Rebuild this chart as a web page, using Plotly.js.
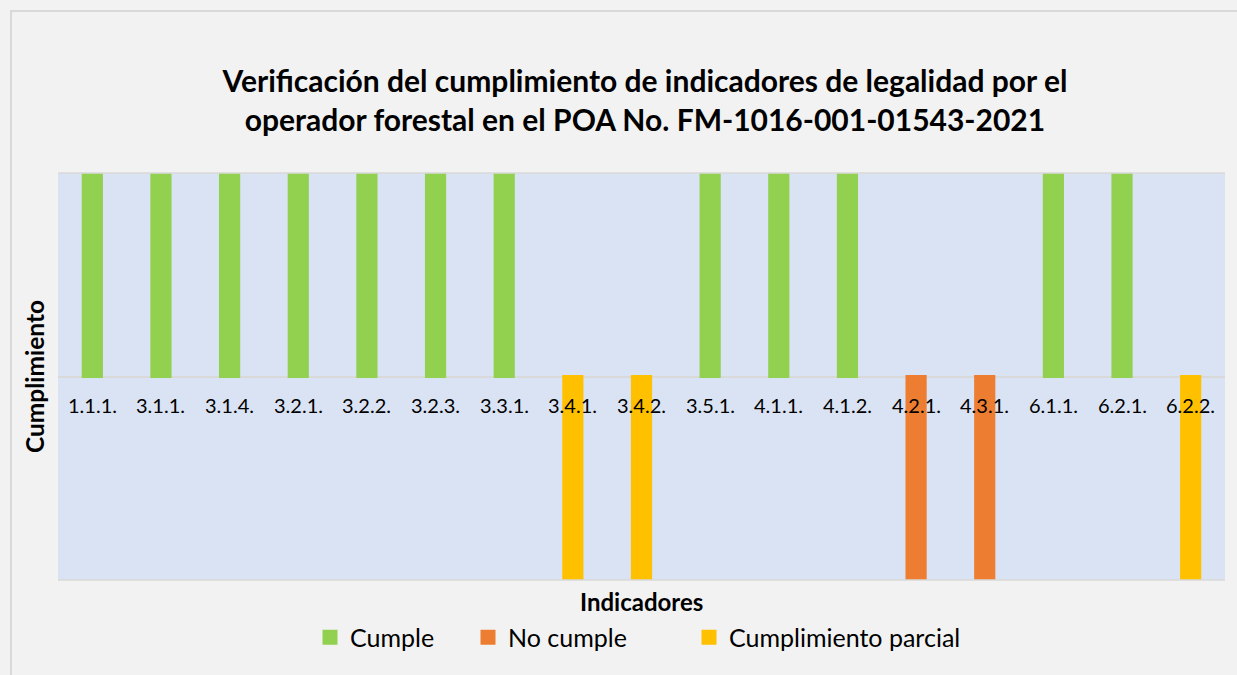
<!DOCTYPE html>
<html>
<head>
<meta charset="utf-8">
<script src="https://cdn.plot.ly/plotly-3.0.1.min.js"></script>
<style>
html,body{margin:0;padding:0;background:#ffffff;}
#chart{width:1237px;height:675px;}
</style>
</head>
<body>
<div id="chart"></div>
<script>
const categories = ["1.1.1.","3.1.1.","3.1.4.","3.2.1.","3.2.2.","3.2.3.","3.3.1.","3.4.1.","3.4.2.","3.5.1.","4.1.1.","4.1.2.","4.2.1.","4.3.1.","6.1.1.","6.2.1.","6.2.2."];
const cumple    = [1,1,1,1,1,1,1,null,null,1,1,1,null,null,1,1,null];
const noCumple  = [null,null,null,null,null,null,null,null,null,null,null,null,-1,-1,null,null,null];
const parcial   = [null,null,null,null,null,null,null,-1,-1,null,null,null,null,null,null,null,-1];
const seriesNames = ["Cumple","No cumple","Cumplimiento parcial"];
const seriesColors = ["#92D050","#ED7D31","#FFC000"];

const FONT = "Lato, 'Open Sans', sans-serif";
const PLOT_W = 1237 - 58 - 12;
const PLOT_H = 675 - 173 - 95;
const legendIds = ["legend","legend2","legend3"];
const legendLeftPx = [310, 468, 689];

const traces = [cumple, noCumple, parcial].map((vals, i) => ({
  type: "bar",
  name: seriesNames[i],
  x: categories,
  y: vals,
  legend: legendIds[i],
  marker: {color: seriesColors[i], line: {width: 3, color: seriesColors[i]}},
  hoverinfo: "x+y+name"
}));

const labelAnnotations = categories.map(c => ({
  x: c, y: 0, xref: "x", yref: "y",
  text: c, showarrow: false,
  yanchor: "top", yshift: -14,
  font: {family: FONT, size: 20, color: "#000000"}
}));

const layout = {
  width: 1237, height: 675,
  paper_bgcolor: "#F2F2F2",
  plot_bgcolor: "#DAE3F3",
  margin: {l: 58, r: 12, t: 173, b: 95, pad: 0, autoexpand: false},
  barmode: "relative",
  bargap: 0.735,
  showlegend: true,
  title: {
    text: "<b>Verificación del cumplimiento de indicadores de legalidad por el<br>operador forestal en el POA No. FM-1016-001-01543-2021</b>",
    font: {family: FONT, size: 30, color: "#000000"},
    x: 0.5214, xanchor: "center",
    y: 0.864, yanchor: "middle"
  },
  xaxis: {
    type: "category",
    showticklabels: false,
    ticks: "",
    showgrid: false,
    showline: false,
    zeroline: false,
    fixedrange: true
  },
  yaxis: {
    range: [-1, 1],
    showticklabels: false,
    ticks: "",
    showgrid: false,
    showline: false,
    zeroline: true,
    zerolinecolor: "#D9D9D9",
    zerolinewidth: 1.5,
    title: {text: "<b>Cumplimiento</b>", font: {family: FONT, size: 24.5, color: "#000000"}, standoff: 5},
    fixedrange: true
  },
  annotations: labelAnnotations.concat([{
    x: 0.5, y: -0.012, xref: "paper", yref: "paper",
    text: "<b>Indicadores</b>", showarrow: false,
    xanchor: "center", yanchor: "top",
    font: {family: FONT, size: 24, color: "#000000"}
  }]),
  shapes: [
    {type: "line", xref: "paper", yref: "paper", x0: 0, x1: 1, y0: 1, y1: 1, line: {color: "#D9D9D9", width: 1.5}},
    {type: "line", xref: "paper", yref: "paper", x0: 0, x1: 1, y0: 0, y1: 0, line: {color: "#D9D9D9", width: 1.5}},
    {type: "rect", xref: "paper", yref: "paper",
      x0: (11 - 58) / PLOT_W, x1: (1240 - 58) / PLOT_W,
      y0: -(676 - 580) / PLOT_H, y1: 1 + (173 - 11) / PLOT_H,
      line: {color: "#D9D9D9", width: 2}, fillcolor: "rgba(0,0,0,0)", layer: "below"}
  ]
};

legendIds.forEach((id, i) => {
  layout[id] = {
    orientation: "h",
    x: (legendLeftPx[i] - 58) / PLOT_W, xanchor: "left",
    y: -0.085, yanchor: "top",
    font: {family: FONT, size: 25, color: "#000000"},
    bgcolor: "rgba(0,0,0,0)",
    itemclick: false, itemdoubleclick: false
  };
});

Plotly.newPlot("chart", traces, layout, {displayModeBar: false});
</script>
</body>
</html>
